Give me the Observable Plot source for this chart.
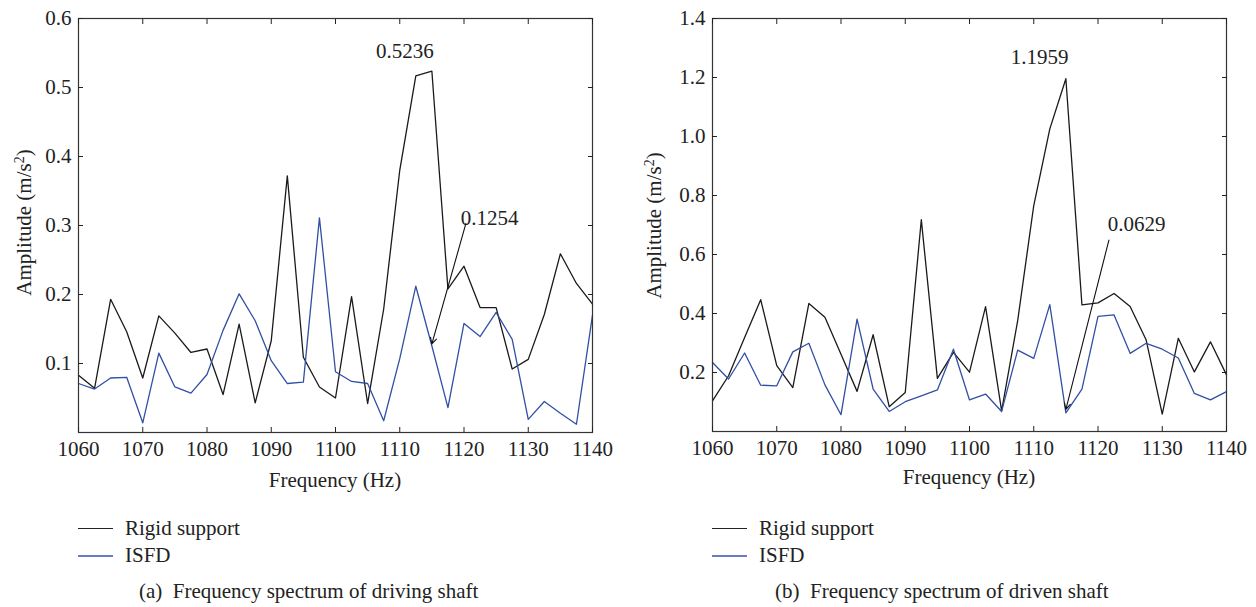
<!DOCTYPE html>
<html><head><meta charset="utf-8">
<script src="https://cdn.jsdelivr.net/npm/d3@7"></script>
<script src="https://cdn.jsdelivr.net/npm/@observablehq/plot@0.6"></script>
<style>
body{margin:0;background:#fff;}
#wrap{position:relative;width:1256px;height:607px;font-family:"Liberation Serif",serif;color:#222;overflow:hidden;}
.t{position:absolute;white-space:pre;font-size:21px;line-height:21px;}
.lg{position:absolute;height:0;}
svg{position:absolute;top:0;}
</style></head><body><div id="wrap"></div>
<script>
// ---- data ----
const frequency = [1060,1062.5,1065,1067.5,1070,1072.5,1075,1077.5,1080,1082.5,1085,1087.5,1090,1092.5,1095,1097.5,1100,1102.5,1105,1107.5,1110,1112.5,1115,1117.5,1120,1122.5,1125,1127.5,1130,1132.5,1135,1137.5,1140];
const drivingRigid = [0.083,0.064,0.193,0.146,0.079,0.169,0.144,0.116,0.121,0.055,0.157,0.043,0.133,0.372,0.109,0.066,0.050,0.197,0.042,0.179,0.380,0.517,0.5236,0.208,0.241,0.181,0.181,0.092,0.106,0.171,0.259,0.216,0.186];
const drivingISFD = [0.071,0.063,0.079,0.080,0.014,0.115,0.066,0.057,0.084,0.148,0.201,0.162,0.104,0.071,0.073,0.311,0.088,0.074,0.071,0.017,0.107,0.212,0.1254,0.036,0.158,0.139,0.174,0.135,0.019,0.045,0.028,0.012,0.170];
const drivenRigid = [0.104,0.189,0.319,0.447,0.223,0.149,0.434,0.387,0.262,0.136,0.328,0.084,0.132,0.718,0.180,0.268,0.201,0.423,0.070,0.376,0.766,1.026,1.1959,0.429,0.436,0.468,0.424,0.310,0.059,0.316,0.202,0.304,0.192];
const drivenISFD = [0.234,0.178,0.266,0.157,0.155,0.270,0.299,0.158,0.057,0.381,0.144,0.068,0.101,0.121,0.141,0.279,0.107,0.127,0.068,0.276,0.248,0.430,0.0629,0.144,0.390,0.395,0.265,0.299,0.279,0.249,0.129,0.107,0.135];
const xTicks = [1060,1070,1080,1090,1100,1110,1120,1130,1140];
const drivingYTicks = [0.1,0.2,0.3,0.4,0.5,0.6];
const drivenYTicks = [0.2,0.4,0.6,0.8,1.0,1.2,1.4];
const seriesNames = ["Rigid support","ISFD"];
const peakLabels = {driving:["0.5236","0.1254"], driven:["1.1959","0.0629"]};
const captions = ["(a)  Frequency spectrum of driving shaft","(b)  Frequency spectrum of driven shaft"];

// ---- styles / layout ----
const colors = ["#1a1a1a","#3150a4"];
const legendColors = ["#222","#6a7cbf"];
const wrap = document.getElementById("wrap");

function rows(a,b){
  const r=[];
  frequency.forEach((f,i)=>r.push({f, v:a[i], s:seriesNames[0]}));
  frequency.forEach((f,i)=>r.push({f, v:b[i], s:seriesNames[1]}));
  return r;
}

function panel(cfg){
  const data = rows(cfg.rigid, cfg.isfd);
  const svg = Plot.plot({
    width: cfg.width, height: 460,
    marginLeft: cfg.ml, marginRight: cfg.mr, marginTop: 18, marginBottom: cfg.mb,
    style:{fontFamily:'"Liberation Serif", serif', fontSize:"21px", color:"#222", background:"transparent", overflow:"visible"},
    x:{domain:[1060,1140]},
    y:{domain:[0,cfg.ymax]},
    color:{domain:seriesNames, range:colors},
    marks:[
      Plot.line(data,{x:"f",y:"v",z:"s",stroke:"s",strokeWidth:1.3}),
      Plot.frame({stroke:"#333",strokeWidth:1.2}),
      Plot.axisX(xTicks,{anchor:"bottom",tickSize:-5,tickPadding:14,label:null,tickFormat:d=>String(d)}),
      Plot.axisX(xTicks,{anchor:"top",tickSize:-5,label:null,tickFormat:()=>""}),
      Plot.axisY(cfg.yTicks,{anchor:"left",tickSize:-5,tickPadding:12,label:null,tickFormat:d3.format(".1f")}),
      Plot.axisY(cfg.yTicks,{anchor:"right",tickSize:-5,label:null,tickFormat:()=>""}),
      Plot.text(cfg.notes,{x:"f",y:"v",text:"label",fontSize:21,fill:"#222"}),
      Plot.arrow([cfg.arrow],{x1:"f1",y1:"v1",x2:"f2",y2:"v2",stroke:"#111",strokeWidth:1.1,headLength:9,headAngle:55})
    ]
  });
  svg.style.left = cfg.left+"px";
  wrap.appendChild(svg);

  const add=(html,css)=>{const d=document.createElement("div");d.className="t";d.innerHTML=html;Object.assign(d.style,css);wrap.appendChild(d);return d;};
  // y-axis title
  add('Amplitude (m/s<sup style="font-size:14px;vertical-align:7px;line-height:0">2</sup>)',{left:(cfg.ylx-100)+"px",top:(cfg.yly-10)+"px",width:"200px",textAlign:"center",transform:"rotate(-90deg)"});
  // x-axis title
  add("Frequency (Hz)",{left:(cfg.xlx-100)+"px",top:(cfg.xly-10)+"px",width:"200px",textAlign:"center"});
  // legend
  seriesNames.forEach((n,i)=>{
    const y = 529 + i*27;
    const l=document.createElement("div");l.className="lg";
    Object.assign(l.style,{left:cfg.lgx+"px",top:(y-1)+"px",width:"35px",borderTop:(i?2:1.5)+"px solid "+legendColors[i]});
    wrap.appendChild(l);
    add(n,{left:(cfg.lgx+47)+"px",top:(y-11)+"px"});
  });
  add(cfg.caption,{left:cfg.capx+"px",top:(592-11)+"px"});
}

panel({
  left:0,width:620,ml:78,mr:28,mb:28,ymax:0.6,yTicks:drivingYTicks,
  rigid:drivingRigid,isfd:drivingISFD,
  notes:[{f:1110.8,v:0.553,label:peakLabels.driving[0]},{f:1124,v:0.31,label:peakLabels.driving[1]}],
  arrow:{f1:1120.3,v1:0.303,f2:1115,v2:0.1285},
  ylx:24,yly:222,xlx:335,xly:480,lgx:78,capx:139,caption:captions[0]
});
panel({
  left:628,width:628,ml:84,mr:30,mb:29,ymax:1.4,yTicks:drivenYTicks,
  rigid:drivenRigid,isfd:drivenISFD,
  notes:[{f:1110.9,v:1.267,label:peakLabels.driven[0]},{f:1126,v:0.703,label:peakLabels.driven[1]}],
  arrow:{f1:1121.7,v1:0.649,f2:1115,v2:0.075},
  ylx:654,yly:225,xlx:969,xly:477,lgx:712,capx:775,caption:captions[1]
});
</script></body></html>
